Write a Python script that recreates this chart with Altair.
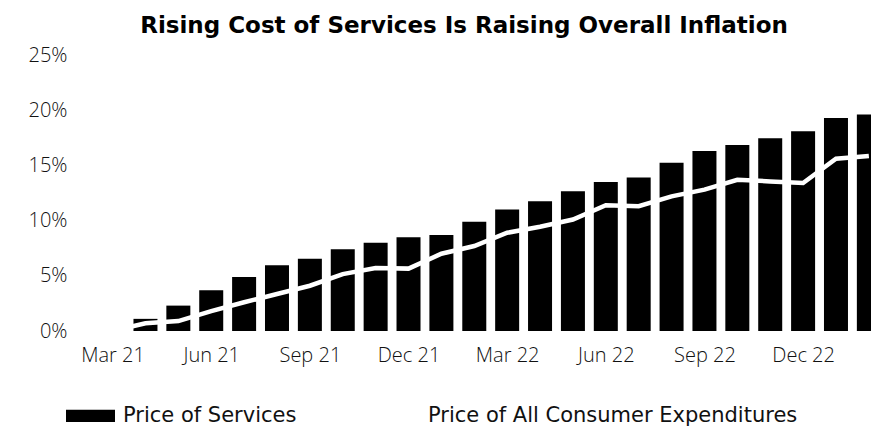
import altair as alt
import pandas as pd

months = ["Mar 21", "Apr 21", "May 21", "Jun 21", "Jul 21", "Aug 21", "Sep 21", "Oct 21",
          "Nov 21", "Dec 21", "Jan 22", "Feb 22", "Mar 22", "Apr 22", "May 22", "Jun 22",
          "Jul 22", "Aug 22", "Sep 22", "Oct 22", "Nov 22", "Dec 22", "Jan 23", "Feb 23"]
services = [0, 1.1, 2.3, 3.7, 4.9, 5.95, 6.55, 7.4, 8.0, 8.5, 8.7, 9.9, 11.0, 11.75,
            12.65, 13.5, 13.9, 15.25, 16.3, 16.85, 17.45, 18.1, 19.3, 19.6]
overall = [0, 0.7, 0.9, 1.8, 2.6, 3.35, 4.1, 5.15, 5.7, 5.65, 7.0, 7.7, 8.9, 9.45,
           10.1, 11.4, 11.3, 12.2, 12.8, 13.7, 13.55, 13.4, 15.6, 15.85]
tick_labels = ["Mar 21", "Jun 21", "Sep 21", "Dec 21", "Mar 22", "Jun 22", "Sep 22", "Dec 22"]
y_ticks = [0, 5, 10, 15, 20, 25]

S_NAME = "Price of Services"
A_NAME = "Price of All Consumer Expenditures"

rows = []
for i, m in enumerate(months):
    rows.append({"idx": i, "month": m, "series": S_NAME, "value": services[i]})
    rows.append({"idx": i, "month": m, "series": A_NAME, "value": overall[i]})
df = pd.DataFrame(rows)

FONT = "Open Sans"
label_js = "[" + ",".join(f"'{t}'" for t in tick_labels) + "]"

x = alt.X(
    "idx:Q",
    scale=alt.Scale(domain=[-0.991, 22.913], nice=False, zero=False),
    axis=alt.Axis(
        values=[3 * k for k in range(len(tick_labels))],
        labelExpr=f"{label_js}[datum.value / 3]",
        title=None, grid=False, domain=False, ticks=False,
        labelFontSize=20, labelFont=FONT, labelColor="#111111", labelPadding=14,
        labelFlush=False, labelOverlap=False, labelFontWeight=300,
    ),
)
y = alt.Y(
    "value:Q",
    scale=alt.Scale(domain=[0, 25], nice=False),
    axis=alt.Axis(
        values=y_ticks, labelExpr="datum.value + '%'",
        title=None, grid=False, domain=False, ticks=False,
        labelFontSize=20, labelFont=FONT, labelColor="#111111", labelPadding=8,
        labelFontWeight=300,
    ),
)
color = alt.Color(
    "series:N",
    scale=alt.Scale(domain=[S_NAME, A_NAME], range=["#000000", "#ffffff"]),
    legend=alt.Legend(
        title=None, orient="none", legendX=-9, legendY=336, direction="horizontal",
        symbolType="M-1,-0.25H1V0.25H-1Z", symbolSize=2401, symbolStrokeWidth=0,
        labelFontSize=21, labelFont="DejaVu Sans", labelColor="#111111", labelOffset=8,
        columnPadding=74, labelLimit=600,
    ),
)

bars = alt.Chart(df).transform_filter(alt.datum.series == S_NAME).mark_bar(
    width=24, clip=True
).encode(x=x, y=y, color=color)

line = alt.Chart(df).transform_filter(alt.datum.series == A_NAME).mark_line(
    strokeWidth=4.5, clip=True
).encode(x=x, y=y, color=color)

chart = alt.layer(bars, line).properties(
    width=796, height=276,
    autosize=alt.AutoSizeParams(type="none"),
    padding={"left": 67, "top": 47, "right": 0, "bottom": 101},
    title=alt.Title(
        "Rising Cost of Services Is Raising Overall Inflation",
        font="DejaVu Sans", fontSize=23, fontWeight="bold", color="#000000",
        anchor="middle", dx=-9, offset=7,
    ),
).configure(background="white", view=alt.ViewConfig(stroke=None))

chart.save("out.html", embed_options={"renderer": "svg", "actions": False})
